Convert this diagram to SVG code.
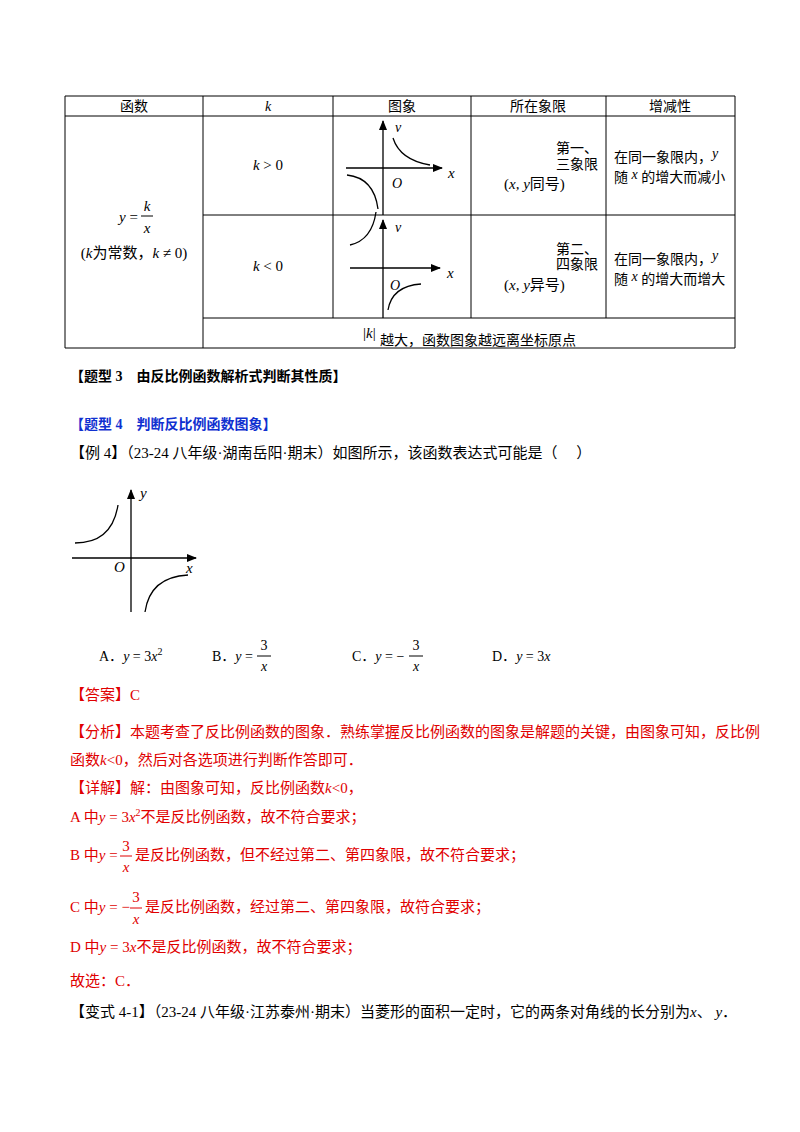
<svg xmlns="http://www.w3.org/2000/svg" width="800" height="1132" viewBox="0 0 800 1132">
<defs>
<style>
text{font-family:"Liberation Serif","Noto Sans CJK SC",serif;font-size:14px;fill:#000}
.c{text-anchor:middle}
.i{font-style:italic}
.r{fill:#e00000;font-size:15px}
.b{fill:#1030d0;font-weight:bold;font-size:14px}
.k{font-weight:bold}
.t{font-size:15px}
.g line,.g path{stroke:#000;stroke-width:1.3;fill:none}
.tb line{stroke:#000;stroke-width:1}
</style>
<marker id="ah" markerWidth="10" markerHeight="8" refX="9" refY="4" orient="auto" markerUnits="userSpaceOnUse"><path d="M0,0 L10,4 L0,8 Z" fill="#000"/></marker>
</defs>
<rect width="800" height="1132" fill="#fff"/>
<g id="table" class="tb">
<line x1="65" y1="96" x2="735" y2="96"/><line x1="65" y1="116" x2="735" y2="116"/>
<line x1="203" y1="215" x2="735" y2="215"/><line x1="203" y1="318" x2="735" y2="318"/>
<line x1="65" y1="348" x2="735" y2="348"/>
<line x1="65" y1="96" x2="65" y2="348"/><line x1="203" y1="96" x2="203" y2="348"/>
<line x1="333" y1="96" x2="333" y2="318"/><line x1="471" y1="96" x2="471" y2="318"/>
<line x1="606" y1="96" x2="606" y2="318"/><line x1="735" y1="96" x2="735" y2="348"/>
</g>
<g id="headers">
<text x="134" y="111" class="c">函数</text><text x="268" y="111" class="c i">k</text>
<text x="402" y="111" class="c">图象</text><text x="538" y="111" class="c">所在象限</text><text x="670" y="111" class="c">增减性</text>
</g>
<g id="func">
<text x="138" y="222" text-anchor="end" class="t"><tspan class="i">y</tspan> =</text>
<text x="147" y="211" class="c i t">k</text><line x1="141" y1="216" x2="153" y2="216" stroke="#000"/>
<text x="147" y="233" class="c i t">x</text>
<text x="134" y="258" class="c t">(<tspan class="i">k</tspan>为常数，<tspan class="i">k</tspan> ≠ 0)</text>
</g>
<g id="row1">
<text x="268" y="170" class="c t"><tspan class="i">k</tspan> &gt; 0</text>
<g class="g"><line x1="383" y1="215" x2="383" y2="121" marker-end="url(#ah)"/><line x1="346" y1="168" x2="442" y2="168" marker-end="url(#ah)"/>
<path d="M393,138 Q400,160 430,165"/><path d="M347,175 Q374,178 378,209"/></g>
<text x="395" y="132" class="i">v</text><text x="448" y="178" class="i t">x</text><text x="392" y="188" class="i">O</text>
<text x="598" y="153" text-anchor="end">第一、</text><text x="598" y="169" text-anchor="end">三象限</text>
<text x="504" y="189" class="t">(<tspan class="i">x, y</tspan>同号)</text>
<text x="614" y="162">在同一象限内，<tspan class="i" dy="-4">y</tspan></text>
<text x="614" y="182">随 <tspan class="i" dy="-3">x</tspan><tspan dy="3"> 的增大而减小</tspan></text>
</g>
<g id="row2">
<text x="268" y="271" class="c t"><tspan class="i">k</tspan> &lt; 0</text>
<g class="g"><line x1="383" y1="318" x2="383" y2="220" marker-end="url(#ah)"/><line x1="350" y1="268" x2="440" y2="268" marker-end="url(#ah)"/>
<path d="M350,245 Q372,240 376,212"/><path d="M388,310 Q392,286 421,284"/></g>
<text x="395" y="232" class="i">v</text><text x="447" y="278" class="i t">x</text><text x="390" y="290" class="i">O</text>
<text x="598" y="254" text-anchor="end">第二、</text><text x="598" y="269" text-anchor="end">四象限</text>
<text x="504" y="290" class="t">(<tspan class="i">x, y</tspan>异号)</text>
<text x="614" y="264">在同一象限内，<tspan class="i" dy="-4">y</tspan></text>
<text x="614" y="284">随 <tspan class="i" dy="-3">x</tspan><tspan dy="3"> 的增大而增大</tspan></text>
</g>
<g id="row3">
<text x="363" y="338" class="t">|<tspan class="i">k</tspan>|</text>
<text x="380" y="345">越大，函数图象越远离坐标原点</text>
</g>
<text x="70" y="381" class="k">【题型 3　由反比例函数解析式判断其性质】</text>
<text x="70" y="429" class="b">【题型 4　判断反比例函数图象】</text>
<text x="70" y="458" class="t">【例 4】（23-24 八年级·湖南岳阳·期末）如图所示，该函数表达式可能是（　 ）</text>
<g id="graph" class="g">
<line x1="131" y1="612" x2="131" y2="490" marker-end="url(#ah)"/><line x1="72" y1="558" x2="196" y2="558" marker-end="url(#ah)"/>
<path d="M75,543 Q112,543 118,505"/><path d="M145,612 Q150,577 188,575"/>
</g>
<text x="140" y="498" class="i t">y</text><text x="186" y="573" class="i t">x</text><text x="114" y="572" class="i t">O</text>
<g id="options" class="t">
<text x="99" y="661">A．<tspan class="i">y</tspan> = 3<tspan class="i">x</tspan><tspan dy="-6" font-size="10">2</tspan></text>
<text x="212" y="661">B．<tspan class="i">y</tspan> =</text>
<text x="264" y="650" class="c">3</text><line x1="257" y1="656" x2="271" y2="656" stroke="#000"/><text x="264" y="671" class="c i">x</text>
<text x="352" y="661">C．<tspan class="i">y</tspan> = −</text>
<text x="416" y="650" class="c">3</text><line x1="409" y1="656" x2="423" y2="656" stroke="#000"/><text x="416" y="671" class="c i">x</text>
<text x="492" y="661">D．<tspan class="i">y</tspan> = 3<tspan class="i">x</tspan></text>
</g>
<g id="answer">
<text x="70" y="700" class="r">【答案】C</text>
<text x="70" y="737" class="r">【分析】本题考查了反比例函数的图象．熟练掌握反比例函数的图象是解题的关键，由图象可知，反比例</text>
<text x="70" y="765" class="r">函数<tspan class="i">k</tspan>&lt;0，然后对各选项进行判断作答即可．</text>
<text x="70" y="793" class="r">【详解】解：由图象可知，反比例函数<tspan class="i">k</tspan>&lt;0，</text>
<text x="70" y="822" class="r">A 中<tspan class="i">y</tspan> = 3<tspan class="i">x</tspan><tspan dy="-6" font-size="10">2</tspan><tspan dy="6">不是反比例函数，故不符合要求；</tspan></text>
<text x="70" y="860" class="r">B 中<tspan class="i">y</tspan> =</text>
<text x="126" y="851" class="c r">3</text><line x1="120" y1="856" x2="132" y2="856" stroke="#e00000"/><text x="126" y="872" class="c r i">x</text>
<text x="135" y="860" class="r">是反比例函数，但不经过第二、第四象限，故不符合要求；</text>
<text x="70" y="912" class="r">C 中<tspan class="i">y</tspan> = −</text>
<text x="136" y="902" class="c r">3</text><line x1="130" y1="908" x2="142" y2="908" stroke="#e00000"/><text x="136" y="924" class="c r i">x</text>
<text x="145" y="912" class="r">是反比例函数，经过第二、第四象限，故符合要求；</text>
<text x="70" y="952" class="r">D 中<tspan class="i">y</tspan> = 3<tspan class="i">x</tspan>不是反比例函数，故不符合要求；</text>
<text x="70" y="986" class="r">故选：C．</text>
</g>
<text x="70" y="1017" class="t">【变式 4-1】（23-24 八年级·江苏泰州·期末）当菱形的面积一定时，它的两条对角线的长分别为<tspan class="i">x</tspan>、 <tspan class="i">y</tspan>．</text>
</svg>
